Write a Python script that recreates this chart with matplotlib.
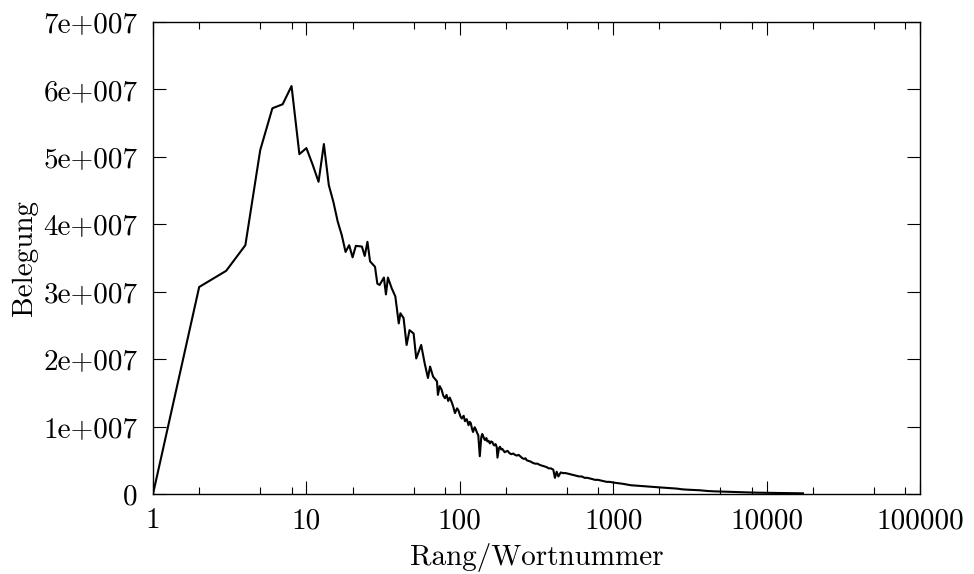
import numpy as np
import matplotlib
matplotlib.use('Agg')
import matplotlib.pyplot as plt
from matplotlib.ticker import FixedLocator, NullFormatter

plt.rcParams['font.family'] = ['cmr10', 'DejaVu Serif']
plt.rcParams['axes.formatter.use_mathtext'] = True

# rank / word number, occupancy in units of 1e7
rank_head = [1, 2, 3, 4, 5, 6, 7, 8, 9, 10, 11, 12, 13, 14, 15, 16, 17,
             18, 19, 20, 21, 23, 24, 25, 26, 28, 29, 30, 32, 33, 34, 36, 38,
             40, 41, 43, 45, 47, 50, 52, 56, 59, 62, 64, 67, 71, 72]
beleg_head = [0.0, 3.07, 3.31, 3.69, 5.10, 5.72, 5.78, 6.05, 5.04, 5.13,
              4.88, 4.63, 5.19, 4.58, 4.33, 4.04, 3.84,
              3.59, 3.69, 3.51, 3.68, 3.67, 3.53, 3.74, 3.45, 3.37, 3.12,
              3.10, 3.21, 2.96, 3.21, 3.05, 2.93,
              2.53, 2.68, 2.61, 2.21, 2.43, 2.38, 2.01, 2.21, 1.94, 1.72,
              1.89, 1.74, 1.67, 1.47]

rank_mid = [74, 76, 78, 80, 82, 84, 86, 89, 91, 93,
            96, 98, 101, 103, 106, 108, 111, 114, 116, 118,
            120, 122, 125, 127, 130, 132, 135, 138, 140, 142,
            144, 146, 149, 151, 154, 157, 160, 163, 166, 168,
            171, 174, 176, 180, 183, 186, 189, 192, 196, 200,
            205, 210, 216, 223, 229, 235, 242, 250, 256, 262,
            268, 273, 281, 290, 300, 310, 321, 333, 344, 355,
            367, 380, 393, 407, 417, 428, 439, 455, 470, 490,
            510, 530, 550, 575, 600, 625, 650, 678, 706, 735,
            760, 795, 830, 870, 907, 950, 1000]
beleg_mid = [1.60, 1.55, 1.46, 1.42, 1.47, 1.38, 1.43, 1.35, 1.28, 1.20,
             1.27, 1.24, 1.15, 1.12, 1.16, 1.08, 1.11, 1.02, 1.07, 1.05,
             0.97, 0.92, 0.99, 0.96, 0.90, 0.87, 0.56, 0.84, 0.89, 0.86,
             0.82, 0.80, 0.83, 0.78, 0.79, 0.75, 0.78, 0.77, 0.73, 0.72,
             0.74, 0.70, 0.54, 0.68, 0.70, 0.66, 0.67, 0.65, 0.62, 0.63,
             0.64, 0.61, 0.59, 0.60, 0.58, 0.57, 0.58, 0.55, 0.53, 0.52,
             0.53, 0.50, 0.49, 0.48, 0.46, 0.45, 0.45, 0.43, 0.42, 0.41,
             0.40, 0.38, 0.38, 0.36, 0.24, 0.33, 0.26, 0.32, 0.31, 0.31,
             0.30, 0.29, 0.28, 0.27, 0.26, 0.26, 0.24, 0.24, 0.23, 0.22,
             0.21, 0.21, 0.20, 0.19, 0.18, 0.18, 0.17]

rank_tail = [1040, 1080, 1120, 1164, 1230, 1300, 1400, 1495, 1600, 1700,
             1820, 1950, 2100, 2233, 2400, 2600, 2800, 3000, 3300, 3681,
             4100, 4500, 5200, 6067, 7200, 8500, 10014, 12000, 14500, 17260]
beleg_tail = [0.165, 0.16, 0.155, 0.15, 0.14, 0.13, 0.125, 0.12, 0.115, 0.11,
              0.105, 0.10, 0.095, 0.09, 0.085, 0.08, 0.07, 0.065, 0.06, 0.055,
              0.045, 0.04, 0.035, 0.03, 0.025, 0.02, 0.017, 0.015, 0.012, 0.01]

xticks = [1, 10, 100, 1000, 10000, 100000]
xticklabels = ['1', '10', '100', '1000', '10000', '100000']
yticks = [0, 1e7, 2e7, 3e7, 4e7, 5e7, 6e7, 7e7]
yticklabels = ['0', '1e+007', '2e+007', '3e+007', '4e+007', '5e+007',
               '6e+007', '7e+007']

rank = rank_head + rank_mid + rank_tail
beleg = np.array(beleg_head + beleg_mid + beleg_tail) * 1e7

fig = plt.figure(figsize=(9.74, 5.74), dpi=100)
ax = fig.add_axes([153 / 974, 1 - 494 / 574, 767 / 974, 472 / 574])

ax.plot(rank, beleg, color='black', lw=1.5)

ax.set_xscale('log')
ax.set_xlim(1, 100000)
ax.set_ylim(0, 7e7)
ax.xaxis.set_major_locator(FixedLocator(xticks))
ax.set_xticklabels(xticklabels)
minors = [m * 10 ** d for d in range(5) for m in (2, 5, 8)]
ax.xaxis.set_minor_locator(FixedLocator(minors))
ax.xaxis.set_minor_formatter(NullFormatter())
ax.set_yticks(yticks)
ax.set_yticklabels(yticklabels)

ax.tick_params(which='both', direction='in', top=True, right=True,
               labelsize=21, width=0.8, color='black')
ax.tick_params(which='major', length=9.5)
ax.tick_params(which='minor', length=4.7)
ax.tick_params(axis='x', pad=10)
ax.tick_params(axis='y', pad=11)
for s in ax.spines.values():
    s.set_linewidth(1.0)

ax.set_xlabel('Rang/Wortnummer', fontsize=21, labelpad=6)
ax.set_ylabel('Belegung', fontsize=21, labelpad=4)

fig.savefig('out.png', dpi=100)
